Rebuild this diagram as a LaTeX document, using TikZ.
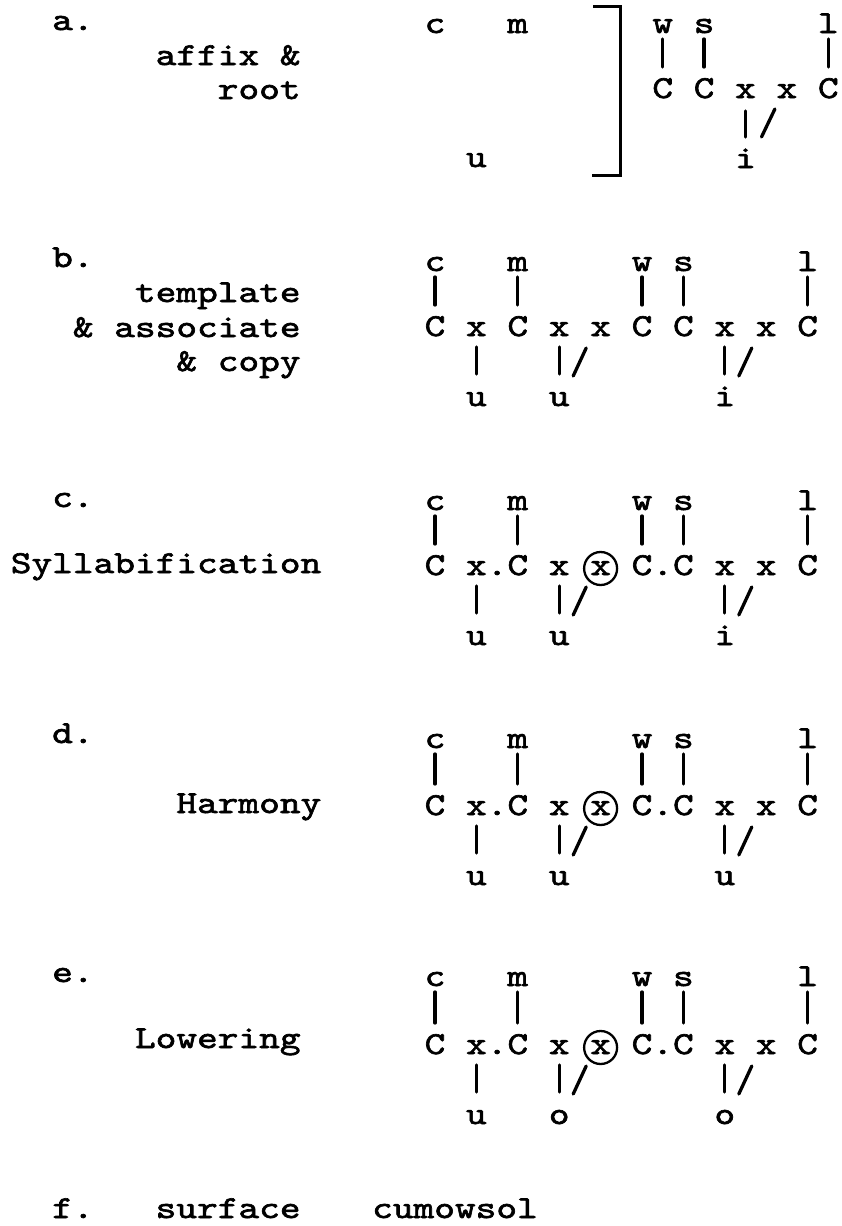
\documentclass[tikz,border=0pt]{standalone}
\usepackage{fontspec}
\newfontfamily\tw{lmmono10-regular}[Extension=.otf,FakeStretch=1.232,FakeBold=2]
\usetikzlibrary{calc}
\newcommand\X[1]{435+41.4*(#1)}
\newcommand\cellx[1]{10.6+20.7*(#1)}
\tikzset{
  lt/.style={font=\tw\fontsize{32pt}{32pt}\selectfont, inner sep=0pt, anchor=base},
  lab/.style={font=\tw\fontsize{32pt}{32pt}\selectfont, inner sep=0pt, anchor=base west},
  bar/.style={line width=3.3pt, line cap=round},
  brk/.style={line width=3pt},
  ring/.style={line width=2.3pt}
}
\newcommand\mkblock[6]{%
  \node[lt] (#1T0) at ({\X{0}},#2) {c};
  \node[lt] (#1T2) at ({\X{2}},#2) {m};
  \node[lt] (#1T5) at ({\X{5}},#2) {w};
  \node[lt] (#1T6) at ({\X{6}},#2) {s};
  \node[lt] (#1T9) at ({\X{9}},#2) {l};
  \foreach \i/\t in {0/C,1/x,2/C,3/x,4/x,5/C,6/C,7/x,8/x,9/C}
    \node[lt] (#1M\i) at ({\X{\i}},#3) {\t};
  \node[lt] (#1B1) at ({\X{1}},{#3+70}) {#4};
  \node[lt] (#1B3) at ({\X{3}},{#3+70}) {#5};
  \node[lt] (#1B7) at ({\X{7}},{#3+70}) {#6};
  \foreach \i in {0,2,5,6,9}
    \draw[bar] ($(#1T\i.base)+(0,6)$) -- ($(#1M\i.base)+(0,-31)$);
  \foreach \i in {1,3,7}
    \draw[bar] ($(#1M\i.base)+(0,11)$) -- ($(#1B\i.base)+(0,-32)$);
  \draw[bar] ($(#1M4.base)+(-14.4,12)$) -- ($(#1B3.base)+(14,-30)$);
  \draw[bar] ($(#1M8.base)+(-14.4,12)$) -- ($(#1B7.base)+(14,-30)$);
}
\newcommand\mksyl[2]{%
  \node[lt] (#1D1) at ({\X{1.5}},#2) {.};
  \node[lt] (#1D5) at ({\X{5.5}},#2) {.};
  \draw[ring] ($(#1M4.base)+(0,-6.5)$) circle[radius=16.5];
}
\begin{document}
\begin{tikzpicture}[x=1pt,y=-1pt]
\useasboundingbox[fill=white] (0,0) rectangle (841,1226);
% ---- a ----
\node[lab] (la) at ({\cellx{2}},30) {a.};
\node[lab] (la1) at ({\cellx{7}},65) {affix \&};
\node[lab] (la2) at ({\cellx{10}},99) {root};
\node[lt] (aT0) at ({\X{0}},33) {c};
\node[lt] (aT2) at ({\X{2}},33) {m};
\node[lt] (aB1) at ({\X{1}},167) {u};
\draw[brk] (593,6) -- (620,6) -- (620,175) -- (592,175);
\node[lt] (aTw) at ({\X{5.5}},33) {w};
\node[lt] (aTs) at ({\X{6.5}},33) {s};
\node[lt] (aTl) at ({\X{9.5}},33) {l};
\node[lt] (aM5) at ({\X{5.5}},98) {C};
\node[lt] (aM6) at ({\X{6.5}},98) {C};
\node[lt] (aM7) at ({\X{7.5}},98) {x};
\node[lt] (aM8) at ({\X{8.5}},98) {x};
\node[lt] (aM9) at ({\X{9.5}},98) {C};
\node[lt] (aB7) at ({\X{7.5}},168) {i};
\draw[bar] ($(aTw.base)+(0,6)$) -- ($(aM5.base)+(0,-31)$);
\draw[bar] ($(aTs.base)+(0,6)$) -- ($(aM6.base)+(0,-31)$);
\draw[bar] ($(aTl.base)+(0,6)$) -- ($(aM9.base)+(0,-31)$);
\draw[bar] ($(aM7.base)+(0,13)$) -- ($(aB7.base)+(0,-31)$);
\draw[bar] ($(aM8.base)+(-12,11)$) -- ($(aB7.base)+(16,-31)$);
% ---- b ----
\node[lab] (lb) at ({\cellx{2}},267) {b.};
\node[lab] (lb1) at ({\cellx{6}},302) {template};
\node[lab] (lb2) at ({\cellx{3}},337) {\& associate};
\node[lab] (lb3) at ({\cellx{8}},371) {\& copy};
\mkblock{b}{271}{336}{u}{u}{i}
% ---- c ----
\node[lab] (lc) at ({\cellx{2}},507) {c.};
\node[lab] (lc1) at ({\cellx{0}},573) {Syllabification};
\mkblock{c}{510}{575}{u}{u}{i}
\mksyl{c}{575}
% ---- d ----
\node[lab] (ld) at ({\cellx{2}},743) {d.};
\node[lab] (ld1) at ({\cellx{8}},813) {Harmony};
\mkblock{d}{748}{815}{u}{u}{u}
\mksyl{d}{815}
% ---- e ----
\node[lab] (le) at ({\cellx{2}},982) {e.};
\node[lab] (le1) at ({\cellx{6}},1048) {Lowering};
\mkblock{e}{986}{1054}{u}{o}{o}
\mksyl{e}{1054}
% ---- f ----
\node[lab] (lf) at ({\cellx{2}},1218) {f.};
\node[lab] (lf1) at ({\cellx{7}},1218) {surface};
\node[lab] (lf2) at (372,1218) {cumowsol};
\end{tikzpicture}
\end{document}
